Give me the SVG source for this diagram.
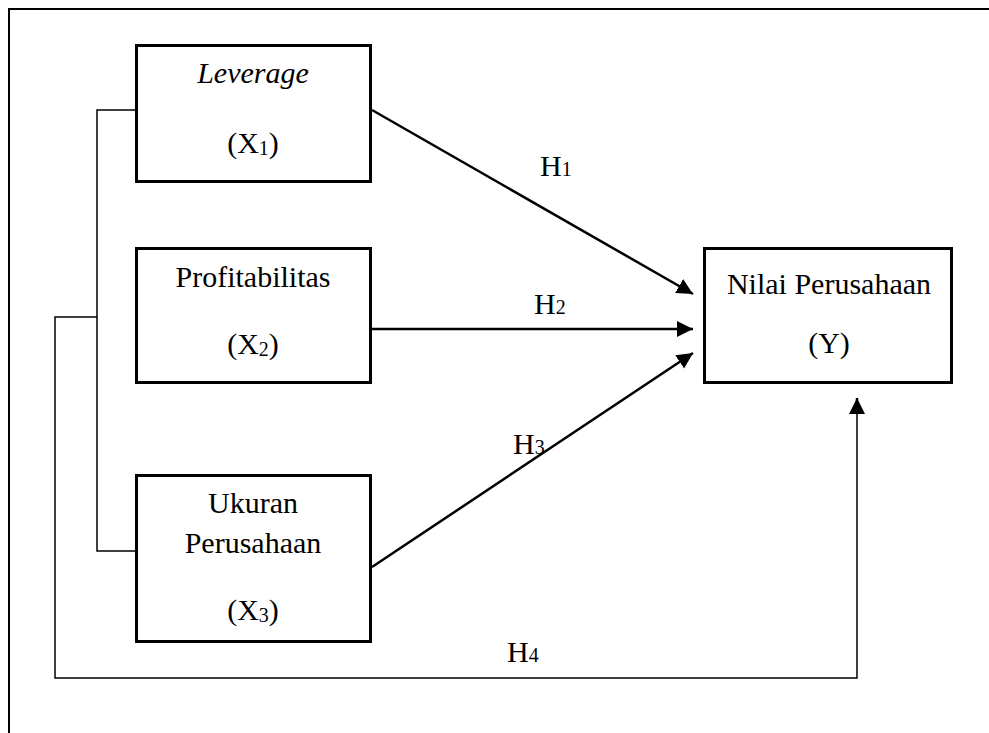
<svg xmlns="http://www.w3.org/2000/svg" width="989" height="733" viewBox="0 0 989 733">
<defs>
<style>
.box{fill:#fff;stroke:#000;stroke-width:3}
.t{font-family:"Liberation Serif","Times New Roman",serif;font-size:30px;fill:#000;text-anchor:middle}
.h{font-family:"Liberation Serif","Times New Roman",serif;font-size:30px;fill:#000}
.sub{font-size:20px}
.arr{fill:none;stroke:#000;stroke-width:2.5}
.thin{fill:none;stroke:#000;stroke-width:1.5}
</style>
<marker id="ah" markerUnits="userSpaceOnUse" markerWidth="17" markerHeight="17" refX="16" refY="8.5" orient="auto">
<path d="M0,0.5 L16,8.5 L0,16.5 z" fill="#000"/>
</marker>
</defs>
<rect width="989" height="733" fill="#fff"/>
<g id="frame">
<path d="M9,733 V9 H989" fill="none" stroke="#000" stroke-width="2"/>
</g>
<g id="connectors">
<path class="thin" d="M135,110 H97 V551 H135"/>
<path class="thin" d="M97,317 H55 V678 H857 V410"/>
<line class="arr" x1="857" y1="414" x2="857" y2="398" marker-end="url(#ah)"/>
<line class="arr" x1="372" y1="110" x2="693" y2="294" marker-end="url(#ah)"/>
<line class="arr" x1="372" y1="329" x2="693" y2="329" marker-end="url(#ah)"/>
<line class="arr" x1="372" y1="567" x2="693" y2="353" marker-end="url(#ah)"/>
<text class="h" x="540" y="176">H<tspan class="sub">1</tspan></text>
<text class="h" x="534" y="314">H<tspan class="sub">2</tspan></text>
<text class="h" x="513" y="454">H<tspan class="sub">3</tspan></text>
<text class="h" x="507" y="662">H<tspan class="sub">4</tspan></text>
</g>
<g id="x1">
<rect class="box" x="136.5" y="45.5" width="234" height="136"/>
<text class="t" x="253" y="83" font-style="italic">Leverage</text>
<text class="t" x="253" y="153">(X<tspan class="sub" dy="2">1</tspan><tspan dy="-2">)</tspan></text>
</g>
<g id="x2">
<rect class="box" x="136.5" y="248.5" width="234" height="134"/>
<text class="t" x="253" y="287">Profitabilitas</text>
<text class="t" x="253" y="354">(X<tspan class="sub" dy="2">2</tspan><tspan dy="-2">)</tspan></text>
</g>
<g id="x3">
<rect class="box" x="136.5" y="475.5" width="234" height="166"/>
<text class="t" x="253" y="513">Ukuran</text>
<text class="t" x="253" y="553">Perusahaan</text>
<text class="t" x="253" y="620">(X<tspan class="sub" dy="2">3</tspan><tspan dy="-2">)</tspan></text>
</g>
<g id="y">
<rect class="box" x="704.5" y="248.5" width="247" height="134"/>
<text class="t" x="829" y="294">Nilai Perusahaan</text>
<text class="t" x="829" y="353">(Y)</text>
</g>
</svg>
